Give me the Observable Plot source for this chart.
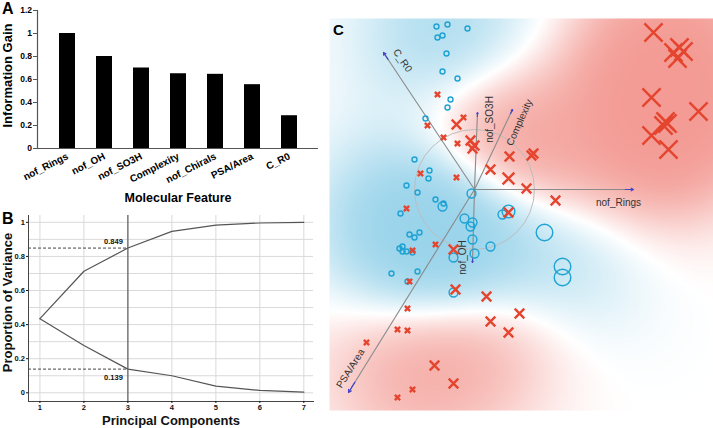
<!DOCTYPE html>
<html><head><meta charset="utf-8">
<script src="https://cdn.jsdelivr.net/npm/d3@7"></script>
<script src="https://cdn.jsdelivr.net/npm/@observablehq/plot@0.6"></script>
<style>
body{margin:0;background:#fff;}
#wrap{position:relative;width:713px;height:428px;overflow:hidden;font-family:"Liberation Sans",Arial,sans-serif;}
.panel{position:absolute;}
.tag{position:absolute;font-weight:bold;line-height:1;color:#000;}
</style></head><body><div id="wrap"></div>
<script>
// ---------- Panel A data ----------
const features = ["nof_Rings","nof_OH","nof_SO3H","Complexity","nof_Chirals","PSA/Area","C_R0"];
const infoGain = [1.0, 0.80, 0.70, 0.65, 0.645, 0.555, 0.285];
const yTicksA = [0, 0.2, 0.4, 0.6, 0.8, 1, 1.2];

// ---------- Panel B data ----------
const components = [1, 2, 3, 4, 5, 6, 7];
const cumulativeVar = [0.435, 0.713, 0.849, 0.947, 0.984, 0.996, 1.0];
const componentVar = [0.434, 0.277, 0.139, 0.100, 0.039, 0.014, 0.004];
const yTicksB = [0, 0.2, 0.4, 0.6, 0.8, 1];
const gridYB = [0, 0.1, 0.2, 0.3, 0.4, 0.5, 0.6, 0.7, 0.8, 0.9, 1.0];
const selectedPC = 3;

// ---------- Panel C data (biplot, PC units) ----------
const blueX = [-3.8,-2.7,-0.7,-3.7,-3.2,-2.8,-3.2,-1.7,-2.4,-2.7,-4.9,-6.0,-4.5,-4.6,-6.8,-5.7,-3.9,-3.1,-7.4,-6.5,-6.0,-5.5,-7.5,-7.2,-7.2,-6.8,-6.2,-8.3,-5.7,-6.7,
  -3.2,-0.3,-1.0,-0.2,-0.4,-0.2,1.6,0.0,-2.1,-2.1,2.8, 3.4, 7.0,8.8,8.8];
const blueY = [16.3,16.5,16.1,15.2,15.4,13.6,11.8,11.1,9.0,8.2,7.1,3.0,1.9,1.1,0.4,-0.3,-1.0,-1.4,-2.4,-4.5,-4.8,-4.3,-5.9,-5.7,-6.2,-6.2,-6.3,-8.4,-8.2,-9.2,
  -1.7,-0.4,-2.9,-3.3,-3.7,-5.0,-5.7,-6.4,-6.8,-10.3,-2.5, -2.2, -4.3,-7.7,-8.8];
const blueW = [1,1,1,1,1,1,1,1,1,1,1,1,1,1,1,1,1,1,1,1,1,1,1,1,1,1,1,1,1,1,
  2,2,2,2,2,2,2,2,2,2,2, 3, 4,4,4];
const redX = [-3.7,-1.1,-4.7,-3.1,-1.7,-5.4,-1.8,-6.8,-3.9,-6.2,-6.5,-6.7,-7.7,-6.7,-10.8,-6.2,-7.7,
  -1.8,-0.4,0.0,-0.2,1.6,3.5,5.7,5.9,5.2,8.1,-2.1,-1.9,1.2,4.5,1.6,3.4,-4.0,-2.1,3.4,3.4,
  17.9,19.9,20.5,20.9,20.3,17.7,22.4,19.1,19.3,18.9,17.7,19.4];
const redY = [9.5,7.2,6.4,5.2,4.6,1.6,1.2,-1.9,-5.5,-6.1,-9.2,-11.9,-14.0,-14.1,-15.3,-20.0,-20.8,
  6.5,4.9,4.4,4.1,2.0,3.3,3.4,3.6,0.1,-1.1,-6.0,-10.0,-10.7,-12.4,-13.2,-14.3,-17.6,-19.4,-2.3,1.1,
  15.7,13.7,14.2,13.8,13.1,9.2,7.8,6.8,6.6,6.4,5.4,4.0];
const redW = [1,1,1,1,1,1,1,1,1,1,1,1,1,1,1,1,1,
  2,2,2,2,2,2,2,2,2,2,2,2,2,2,2,2,2,2,2,2.5,
  4,4,4,4,4,4,4,4,4,4,4,4];
const loadNames = ["nof_Rings","C_R0","nof_SO3H","Complexity","PSA/Area","nof_OH"];
const loadX = [15.9, -9.1, 0.3, 3.8, -12.6, -0.2];
const loadY = [0.0, 13.7, 7.7, 8.0, -20.3, -7.3];

// ---------- build ----------
const wrap = document.getElementById("wrap");
const font = "Liberation Sans, Arial, Helvetica, sans-serif";
function place(node, left, top) { node.classList.add("panel"); node.style.left = left + "px"; node.style.top = top + "px"; wrap.appendChild(node); }
function tag(t, left, top, size) { const d = document.createElement("div"); d.className = "tag"; d.textContent = t; d.style.left = left + "px"; d.style.top = top + "px"; d.style.fontSize = size + "px"; wrap.appendChild(d); }

// Panel A
const barData = features.map((f, i) => ({feature: f, gain: infoGain[i]}));
const plotA = Plot.plot({
  width: 330, height: 205, marginLeft: 37, marginRight: 12, marginTop: 10, marginBottom: 57,
  style: {fontFamily: font, background: "transparent", color: "#000", overflow: "visible"},
  x: {domain: features, padding: 0.58, label: null},
  y: {domain: [0, 1.2], label: null},
  marks: [
    Plot.barY(barData, {x: "feature", y: "gain", fill: "#000"}),
    Plot.ruleY([0], {stroke: "#555", strokeWidth: 1.2}),
    Plot.frame({anchor: "left", stroke: "#555", strokeWidth: 1.2}),
    Plot.axisY(yTicksA, {tickFormat: d => String(d), tickSize: 4, tickPadding: 1.5, fontSize: 8.5, fontWeight: "bold", label: null, stroke: "#555"}),
    Plot.axisX({tickRotate: -27, tickSize: 0, tickPadding: 7, fontSize: 10, fontWeight: "bold", label: null}),
    Plot.text(["Information Gain"], {frameAnchor: "left", textAnchor: "middle", lineAnchor: "middle", rotate: -90, dx: -30, dy: -4, fontSize: 13, fontWeight: "bold"}),
    Plot.text(["Molecular Feature"], {frameAnchor: "bottom", textAnchor: "middle", lineAnchor: "middle", dy: 49, fontSize: 12.5, fontWeight: "bold"})
  ]
});
place(plotA, 0, 0);

// Panel B
const xDomB = [0.74, 7.22], yDomB = [-0.051, 1.04];
const cumData = components.map((c, i) => ({pc: c, v: cumulativeVar[i]}));
const indData = components.map((c, i) => ({pc: c, v: componentVar[i]}));
const selIdx = components.indexOf(selectedPC);
const plotB = Plot.plot({
  width: 330, height: 223, marginLeft: 28, marginRight: 17, marginTop: 10, marginBottom: 27,
  style: {fontFamily: font, background: "transparent", color: "#111", overflow: "visible"},
  x: {domain: xDomB, label: null},
  y: {domain: yDomB, label: null},
  marks: [
    Plot.gridX(components, {stroke: "#d9d9d9", strokeOpacity: 1}),
    Plot.gridY(gridYB, {stroke: "#d9d9d9", strokeOpacity: 1}),
    Plot.frame({anchor: "left", stroke: "#444"}),
    Plot.frame({anchor: "bottom", stroke: "#444"}),
    Plot.axisY(yTicksB, {tickFormat: d => String(d), tickSize: 2, tickPadding: 1.5, fontSize: 7.5, fontWeight: "bold", label: null}),
    Plot.axisX(components, {tickFormat: d => String(d), tickSize: 2, tickPadding: 1.5, fontSize: 7.5, fontWeight: "bold", label: null}),
    Plot.ruleX([selectedPC], {stroke: "#444", strokeWidth: 1}),
    Plot.ruleY([cumulativeVar[selIdx], componentVar[selIdx]], {x1: xDomB[0], x2: selectedPC, stroke: "#444", strokeDasharray: "3,2"}),
    Plot.line(cumData, {x: "pc", y: "v", stroke: "#555", strokeWidth: 1.2}),
    Plot.line(indData, {x: "pc", y: "v", stroke: "#555", strokeWidth: 1.2}),
    Plot.text([cumulativeVar[selIdx]], {x: selectedPC, y: d => d, text: d => d.toFixed(3), textAnchor: "end", dx: -5, dy: -6, fontSize: 7.5, fontWeight: "bold"}),
    Plot.text([componentVar[selIdx]], {x: selectedPC, y: d => d, text: d => d.toFixed(3), textAnchor: "end", dx: -5, dy: 8, fontSize: 7.5, fontWeight: "bold"}),
    Plot.text(["Proportion of Variance"], {frameAnchor: "left", textAnchor: "middle", lineAnchor: "middle", rotate: -90, dx: -21, dy: -6, fontSize: 13, fontWeight: "bold"}),
    Plot.text(["Principal Components"], {frameAnchor: "bottom", textAnchor: "middle", lineAnchor: "middle", dy: 19, fontSize: 13, fontWeight: "bold"})
  ]
});
place(plotB, 0, 205);

// Panel C
const xDomC = [-14.5, 23.9], yDomC = [-22.1, 17.1];
const blue = blueX.map((x, i) => ({x, y: blueY[i], w: blueW[i]}));
const red = redX.map((x, i) => ({x, y: redY[i], w: redW[i]}));
const pts = [...blue.map(p => [p.x, p.y, -1, Math.sqrt(p.w)]), ...red.map(p => [p.x, p.y, 1, Math.sqrt(p.w)])];
const sigma = 6;
function surface(x, y) {
  let s = 0;
  for (const [px, py, c, pw] of pts) {
    s += c * pw * Math.exp(-((x - px) ** 2 + (y - py) ** 2) / (2 * sigma * sigma));
  }
  return Math.tanh(s / 7);
}
const loads = loadNames.map((n, i) => ({name: n, x: loadX[i], y: loadY[i]}));
const labelPlace = {
  "nof_Rings": {dx: -15, dy: 13, rotate: 0},
  "C_R0": {dx: 19, dy: 8, rotate: 56},
  "nof_SO3H": {dx: 12, dy: 7, rotate: -90},
  "Complexity": {dx: 7, dy: 13, rotate: -66},
  "PSA/Area": {dx: 2, dy: -24, rotate: -58},
  "nof_OH": {dx: -10, dy: -5, rotate: -90}
};
const plotC = Plot.plot({
  width: 384, height: 392, margin: 0,
  style: {fontFamily: font, background: "transparent", overflow: "visible"},
  x: {domain: xDomC, axis: null},
  y: {domain: yDomC, axis: null},
  color: {type: "linear", domain: [-1, 0, 1], range: ["#96d2ea", "#ffffff", "#f39a93"], clamp: true},
  r: {type: "linear", domain: [1, 4], range: [2.5, 8.3]},
  marks: [
    Plot.raster({fill: surface, x1: xDomC[0], x2: xDomC[1], y1: yDomC[0], y2: yDomC[1], pixelSize: 2}),
    Plot.dot([0], {x: 0, y: 0, r: 60, stroke: "#bdbdbd", strokeWidth: 1, fill: "none"}),
    Plot.link(loads, {x1: 0, y1: 0, x2: "x", y2: "y", stroke: "#8a8a8a", strokeWidth: 1.1}),
    Plot.arrow(loads, {x1: d => d.x * 0.95, y1: d => d.y * 0.95, x2: "x", y2: "y", stroke: "#4444cc", strokeWidth: 1.2, headLength: 4}),
    ...loads.map(d => Plot.text([d], {x: "x", y: "y", text: "name", dx: labelPlace[d.name].dx, dy: labelPlace[d.name].dy, rotate: labelPlace[d.name].rotate, fontSize: 10, fill: "#333"})),
    Plot.dot(blue, {x: "x", y: "y", r: "w", stroke: "#1ea3d3", strokeWidth: 1.4, fill: "none"}),
    Plot.dot(red, {x: "x", y: "y", r: "w", symbol: "times", stroke: "#e5452f", strokeWidth: 2.4, fill: "none"})
  ]
});
place(plotC, 329, 18);

tag("A", 2, 1, 16);
tag("B", 2, 211, 16);
tag("C", 333, 22, 15);
</script></body></html>
